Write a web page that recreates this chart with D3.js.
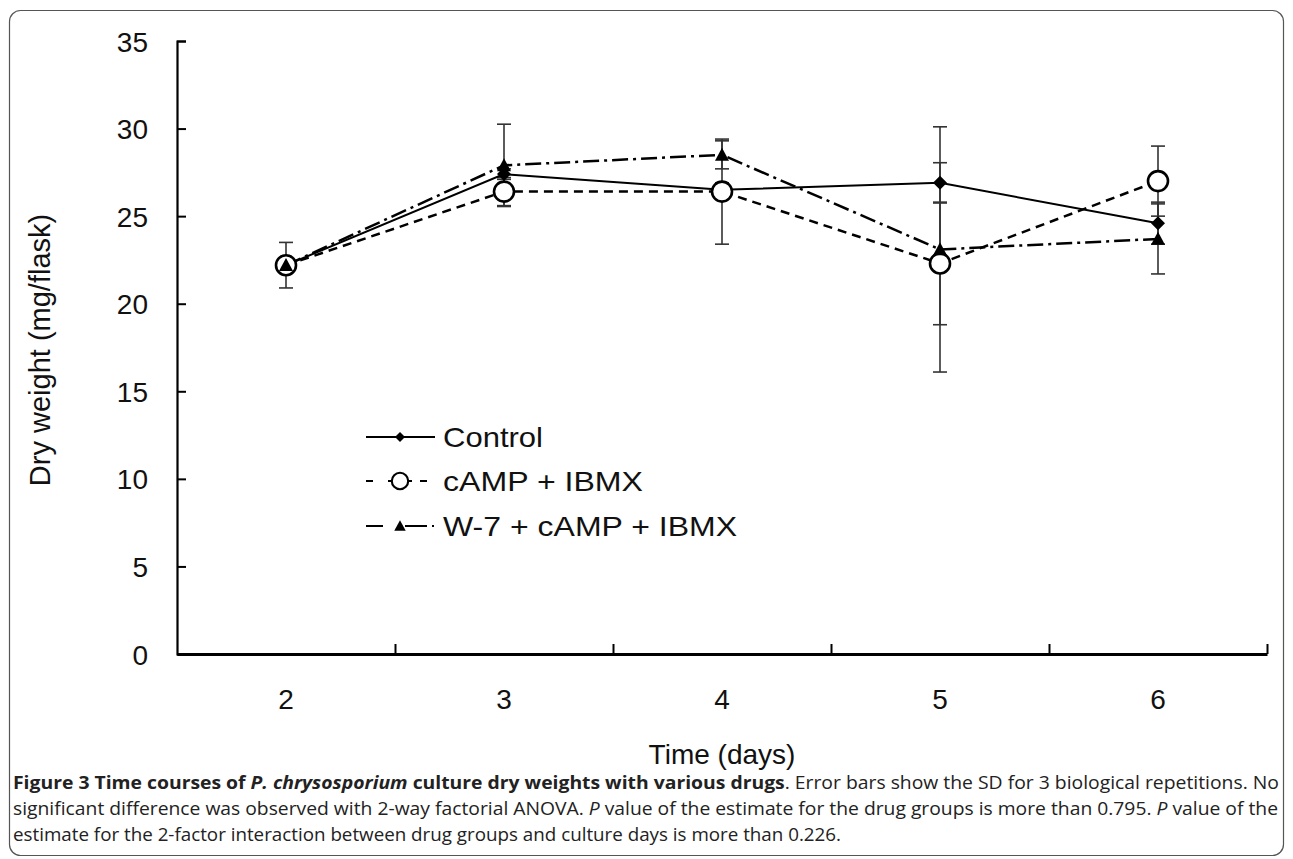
<!DOCTYPE html>
<html>
<head>
<meta charset="utf-8">
<script src="https://cdn.jsdelivr.net/npm/d3@7"></script>
<style>
  html, body { margin: 0; padding: 0; background: #fff; }
  svg { display: block; }
</style>
</head>
<body>
<svg id="chart" width="1293" height="859"></svg>
<script>
// Data
const DAYS = [2, 3, 4, 5, 6];
const Y_TICKS = [0, 5, 10, 15, 20, 25, 30, 35];

const CONTROL = [22.2, 27.4, 26.5, 26.9, 24.6];
const CONTROL_SD = [1.3, 0.3, 0.4, 1.15, 1.2];
const CAMP = [22.2, 26.4, 26.4, 22.3, 27.0];
const CAMP_SD = [0.4, 0.8, 3.0, 3.5, 2.0];
const W7 = [22.2, 27.9, 28.5, 23.1, 23.7];
const W7_SD = [0.4, 2.35, 0.8, 7.0, 2.0];

const SERIES_NAMES = ['Control', 'cAMP + IBMX', 'W-7 + cAMP + IBMX'];

const series = [
  { name: SERIES_NAMES[0], values: CONTROL, sd: CONTROL_SD, marker: 'diamond', dash: null, width: 2 },
  { name: SERIES_NAMES[1], values: CAMP, sd: CAMP_SD, marker: 'circle', dash: '9,6', width: 2.5 },
  { name: SERIES_NAMES[2], values: W7, sd: W7_SD, marker: 'triangle', dash: '16,5,3,5', width: 2.5 }
];

const FONT = '"Liberation Sans", Arial, sans-serif';
const svg = d3.select('#chart');

// frame
svg.append('rect')
  .attr('x', 9.5).attr('y', 10.5)
  .attr('width', 1274).attr('height', 845)
  .attr('rx', 11)
  .attr('fill', 'none')
  .attr('stroke', '#555')
  .attr('stroke-width', 1.2);

// scales
const plotLeft = 177, plotRight = 1267, plotTop = 41, plotBottom = 654;
const x = d3.scaleBand().domain(DAYS).range([plotLeft, plotRight]).paddingInner(0).paddingOuter(0);
const xEdge = d3.scaleLinear().domain([1.5, 6.5]).range([plotLeft, plotRight]);
const y = d3.scaleLinear().domain([0, 35]).range([plotBottom, plotTop]);
const cx = d => x(d) + x.bandwidth() / 2;

// y axis
const yAxis = svg.append('g')
  .attr('transform', `translate(${plotLeft},0)`)
  .call(d3.axisLeft(y).tickValues(Y_TICKS).tickSizeInner(-9).tickSizeOuter(-9).tickPadding(29));
yAxis.select('.domain').attr('stroke-width', 2.2);
yAxis.selectAll('.tick line').attr('stroke-width', 2);
yAxis.selectAll('text')
  .attr('font-family', FONT).attr('font-size', 28).attr('fill', '#111')
  .attr('dy', '0.36em');

// x axis: ticks at band edges, labels at band centres
const xAxis = svg.append('g')
  .attr('transform', `translate(0,${plotBottom})`)
  .call(d3.axisBottom(xEdge).tickValues([2.5, 3.5, 4.5, 5.5, 6.5]).tickFormat('').tickSizeInner(-10).tickSizeOuter(0));
xAxis.select('.domain').attr('stroke-width', 2.8);
xAxis.selectAll('.tick line').attr('stroke-width', 2);

svg.append('g')
  .selectAll('text')
  .data(DAYS)
  .join('text')
  .attr('x', d => cx(d))
  .attr('y', 709)
  .attr('text-anchor', 'middle')
  .attr('font-family', FONT).attr('font-size', 28).attr('fill', '#111')
  .text(d => d);

// axis titles
svg.append('text')
  .attr('x', x(4) + x.bandwidth() / 2)
  .attr('y', 764)
  .attr('text-anchor', 'middle')
  .attr('font-family', FONT).attr('font-size', 28).attr('fill', '#111')
  .text('Time (days)');

svg.append('text')
  .attr('transform', 'translate(50,350) rotate(-90)')
  .attr('text-anchor', 'middle')
  .attr('font-family', FONT).attr('font-size', 29).attr('fill', '#111')
  .text('Dry weight (mg/flask)');

// error bars
const errGroup = svg.append('g').attr('stroke', '#333').attr('stroke-width', 1.6);
series.forEach(s => {
  DAYS.forEach((d, i) => {
    const px = cx(d);
    const hi = y(s.values[i] + s.sd[i]);
    const lo = y(s.values[i] - s.sd[i]);
    errGroup.append('line').attr('x1', px).attr('x2', px).attr('y1', hi).attr('y2', lo);
    errGroup.append('line').attr('x1', px - 7).attr('x2', px + 7).attr('y1', hi).attr('y2', hi);
    errGroup.append('line').attr('x1', px - 7).attr('x2', px + 7).attr('y1', lo).attr('y2', lo);
  });
});

// lines
const line = d3.line().x((v, i) => cx(DAYS[i])).y(v => y(v));
series.forEach(s => {
  svg.append('path')
    .datum(s.values)
    .attr('d', line)
    .attr('fill', 'none')
    .attr('stroke', '#000')
    .attr('stroke-width', s.width)
    .attr('stroke-dasharray', s.dash);
});

// markers
function drawMarker(g, type, px, py, scale) {
  if (type === 'diamond') {
    const h = 7 * scale;
    g.append('path')
      .attr('d', `M${px},${py - h}L${px + h},${py}L${px},${py + h}L${px - h},${py}Z`)
      .attr('fill', '#000');
  } else if (type === 'circle') {
    g.append('circle')
      .attr('cx', px).attr('cy', py).attr('r', 10 * scale)
      .attr('fill', '#fff').attr('stroke', '#000').attr('stroke-width', 2.6 * scale);
  } else {
    const w = 7 * scale, h = 13 * scale;
    g.append('path')
      .attr('d', `M${px},${py - h * 0.55}L${px + w},${py + h * 0.45}L${px - w},${py + h * 0.45}Z`)
      .attr('fill', '#000');
  }
}

const markerGroup = svg.append('g');
series.forEach(s => {
  DAYS.forEach((d, i) => drawMarker(markerGroup, s.marker, cx(d), y(s.values[i]), 1));
});

// legend
const legend = svg.append('g');
const legendRows = [437, 481, 526];
const legendWidths = [100, 200, 294];
series.forEach((s, i) => {
  const ly = legendRows[i];
  const row = legend.append('g');
  let segs;
  if (i === 0) segs = [[366, 435]];
  else if (i === 1) segs = [[366, 373], [388, 392], [408, 412], [420, 427]];
  else segs = [[366, 383], [405, 427], [432, 434]];
  segs.forEach(([a, b]) => {
    row.append('line').attr('x1', a).attr('x2', b).attr('y1', ly).attr('y2', ly)
      .attr('stroke', '#000').attr('stroke-width', 2);
  });
  drawMarker(row, s.marker, 400, ly, s.marker === 'diamond' ? 0.72 : 0.82);
  row.append('text')
    .attr('x', 443).attr('y', ly + 10)
    .attr('font-family', FONT).attr('font-size', 28).attr('fill', '#111')
    .attr('textLength', legendWidths[i]).attr('lengthAdjust', 'spacingAndGlyphs')
    .text(s.name);
});

// caption
const CAP_FONT = '"Open Sans", "Noto Sans", sans-serif';
const cap = svg.append('g').attr('font-family', CAP_FONT).attr('font-size', 18).attr('fill', '#222');

const l1 = cap.append('text').attr('x', 13).attr('y', 789)
  .attr('textLength', 1266).attr('lengthAdjust', 'spacingAndGlyphs');
l1.append('tspan').attr('font-weight', 'bold').text('Figure 3 Time courses of ');
l1.append('tspan').attr('font-weight', 'bold').attr('font-style', 'italic').text('P. chrysosporium');
l1.append('tspan').attr('font-weight', 'bold').text(' culture dry weights with various drugs');
l1.append('tspan').text('. Error bars show the SD for 3 biological repetitions. No');

const l2 = cap.append('text').attr('x', 13).attr('y', 815)
  .attr('textLength', 1265).attr('lengthAdjust', 'spacingAndGlyphs');
l2.append('tspan').text('significant difference was observed with 2-way factorial ANOVA. ');
l2.append('tspan').attr('font-style', 'italic').text('P');
l2.append('tspan').text(' value of the estimate for the drug groups is more than 0.795. ');
l2.append('tspan').attr('font-style', 'italic').text('P');
l2.append('tspan').text(' value of the');

cap.append('text').attr('x', 13).attr('y', 841)
  .attr('textLength', 828).attr('lengthAdjust', 'spacingAndGlyphs')
  .text('estimate for the 2-factor interaction between drug groups and culture days is more than 0.226.');
</script>
</body>
</html>
